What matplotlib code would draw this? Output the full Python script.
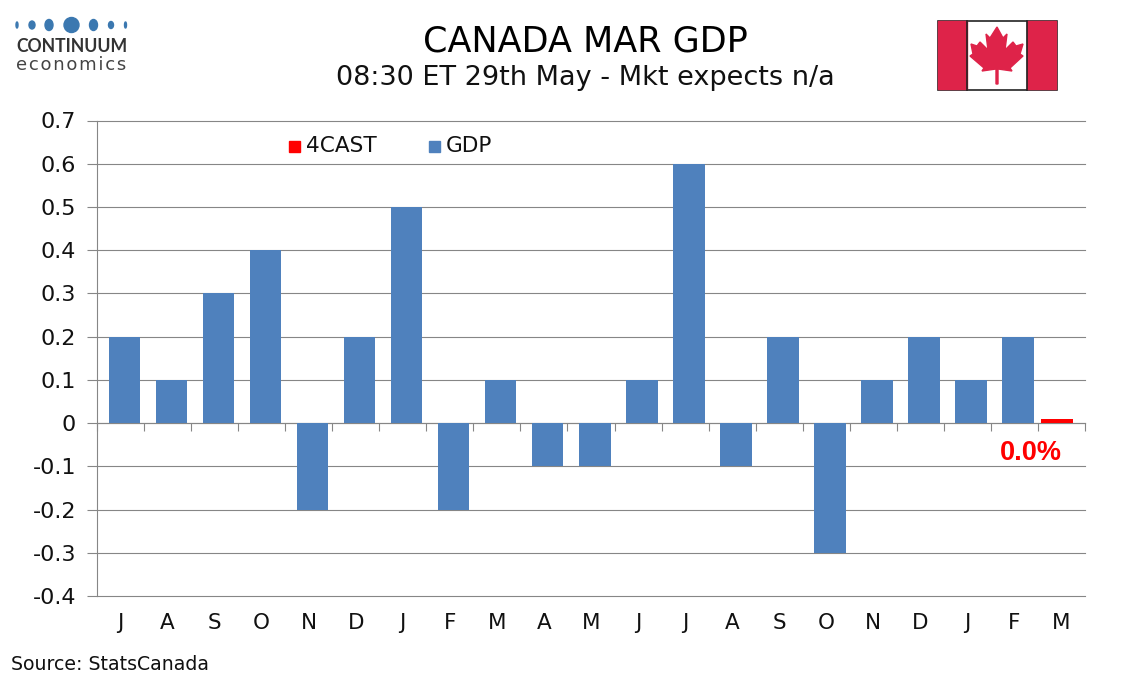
import matplotlib
matplotlib.use('Agg')
import matplotlib.pyplot as plt
from matplotlib.patches import Ellipse, Polygon, Rectangle
import numpy as np

months = ['J', 'A', 'S', 'O', 'N', 'D', 'J', 'F', 'M', 'A', 'M', 'J', 'J', 'A', 'S', 'O', 'N', 'D', 'J', 'F', 'M']
gdp = [0.2, 0.1, 0.3, 0.4, -0.2, 0.2, 0.5, -0.2, 0.1, -0.1, -0.1, 0.1, 0.6, -0.1, 0.2, -0.3, 0.1, 0.2, 0.1, 0.2, np.nan]
forecast = [np.nan] * 20 + [0.01]
yticks = [-0.4, -0.3, -0.2, -0.1, 0, 0.1, 0.2, 0.3, 0.4, 0.5, 0.6, 0.7]
ylabels = ['-0.4', '-0.3', '-0.2', '-0.1', '0', '0.1', '0.2', '0.3', '0.4', '0.5', '0.6', '0.7']

W, H = 1134, 680
grey = '#868686'
blue = '#4f81bd'
red = '#ff0000'
ink = '#111111'

fig = plt.figure(figsize=(W / 100, H / 100), dpi=100)

# chart area, placed in pixels
ax = fig.add_axes([97 / W, 1 - 596 / H, 988 / W, 475.5 / H])
x = np.arange(len(months))
ax.bar(x + 0.08, gdp, width=0.67, color=blue, zorder=3, label='GDP')
ax.bar(x - 0.10, forecast, width=0.67, color=red, zorder=3, label='4CAST')

ax.set_xlim(-0.5, 20.5)
ax.set_ylim(-0.4, 0.7)
ax.set_yticks(yticks)
ax.set_yticklabels(ylabels, fontsize=16, color=ink)
ax.yaxis.grid(True, color=grey, lw=0.8, zorder=0, clip_on=False)
ax.set_axisbelow(True)
ax.tick_params(axis='y', length=7, color=grey, width=0.8, pad=8)

# category ticks hang off the zero line, labels stay at the bottom
ax.spines['bottom'].set_position(('data', 0))
ax.spines['bottom'].set_color(grey)
ax.spines['bottom'].set_linewidth(0.8)
ax.spines['left'].set_color(grey)
ax.spines['left'].set_linewidth(0.8)
ax.spines['top'].set_visible(False)
ax.spines['right'].set_visible(False)
ax.set_xticks(np.arange(-0.5, 21, 1))
ax.set_xticklabels([])
ax.tick_params(axis='x', length=6, color=grey, width=0.8)
for i, m in enumerate(months):
    ax.text(i, -0.4 - 17 / 432.3, m, ha='center', va='top', fontsize=15.5, color=ink)

ax.text(20 - 0.65, -0.07, '0.0%', color=red, fontsize=19.5, fontweight='bold',
        family='Liberation Sans', ha='center', va='center', zorder=5)

# full figure overlay in pixel coordinates for legend, titles, logo and flag
ov = fig.add_axes([0, 0, 1, 1], facecolor='none')
ov.set_xlim(0, W)
ov.set_ylim(H, 0)
ov.axis('off')

ov.add_patch(Rectangle((289, 141), 11, 11, color=red))
ov.text(306, 146, '4CAST', fontsize=15.6, va='center', color=ink)
ov.add_patch(Rectangle((429, 141), 11, 11, color=blue))
ov.text(446, 146, 'GDP', fontsize=15.6, va='center', color=ink)

ov.text(585.5, 41, 'CANADA MAR GDP', fontsize=25.2, ha='center', va='center', color='black')
ov.text(585, 78, '08:30 ET 29th May - Mkt expects n/a', fontsize=19.5, ha='center', va='center', color=ink)
ov.text(11, 664, 'Source: StatsCanada', fontsize=13.6, va='center', color=ink)

# logo
logo_blue = '#3b78b0'
for cx, rx, ry in [(17, 1, 3), (32, 3, 4), (49, 4, 5.5), (71.5, 7.5, 7.5), (93.5, 4, 5.5), (111, 2.5, 3.5), (125.5, 1, 3)]:
    ov.add_patch(Ellipse((cx, 25), rx * 2, ry * 2, color=logo_blue))
ov.text(16, 47, 'CONTINUUM', fontsize=12.7, fontweight='bold', family='Lato', va='center', color='#333333')
ov.text(16, 65, 'e\u200ac\u200ao\u200an\u200ao\u200am\u200ai\u200ac\u200as', fontsize=13, va='center', color='#444444')

# flag
flag_red = '#de2349'
ov.add_patch(Rectangle((937.5, 20.5), 119, 69, facecolor='white', edgecolor='#222222', lw=1.2))
ov.add_patch(Rectangle((938, 21), 29, 68, color=flag_red))
ov.add_patch(Rectangle((1027, 21), 29, 68, color=flag_red))
ov.plot([967, 967], [20.5, 89.5], color='#222222', lw=1.2)
ov.plot([1026.5, 1026.5], [20.5, 89.5], color='#222222', lw=1.2)
leaf = [(997, 27), (1003, 38), (1007, 34), (1005, 50), (1013, 42), (1016, 46), (1023, 44),
        (1020, 54), (1023, 56), (1010, 68), (1012, 71), (998, 69), (998, 84), (996, 84),
        (996, 69), (982, 71), (984, 68), (970, 56), (973, 54), (971, 44), (977, 46),
        (980, 42), (988, 50), (986, 34), (990, 38)]
ov.add_patch(Polygon(leaf, closed=True, color=flag_red))

fig.savefig('out.png', dpi=100)
